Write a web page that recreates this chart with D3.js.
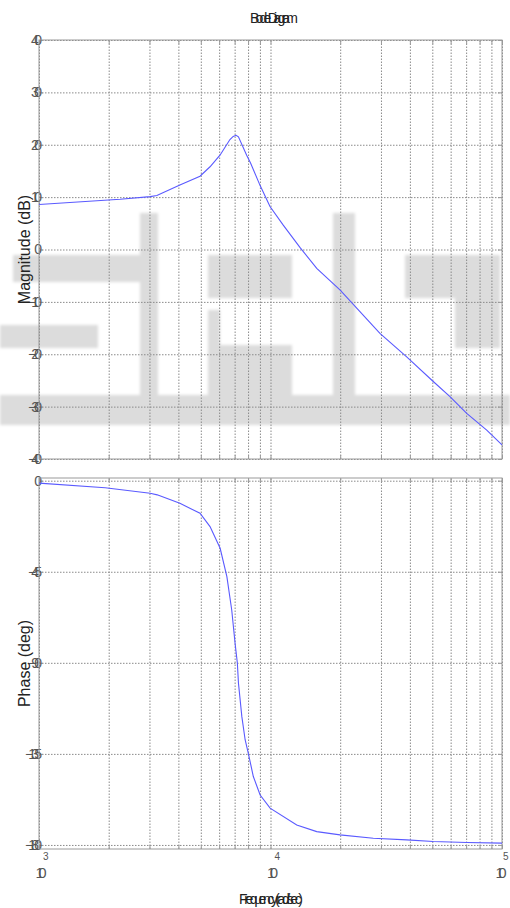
<!DOCTYPE html>
<html lang="en">
<head>
<meta charset="utf-8">
<title>Bode Diagram</title>
<script src="https://cdn.jsdelivr.net/npm/d3@7"></script>
<style>
  body { margin: 0; background: #fff; }
  svg { display: block; font-family: "Liberation Sans", Arial, sans-serif; }
  .grid line { stroke: #8a8a8a; stroke-dasharray: 1.5,1.5; stroke-width: 1; }
  .grid path { display: none; }
  .box { fill: none; stroke: #9a9a9a; stroke-width: 1; }
  .ticks path { display: none; }
  .ticks line { stroke: #9a9a9a; }
  .curve { fill: none; stroke: #5a5aff; stroke-width: 1.1; }
</style>
</head>
<body>
<script>

// frequency axis (rad/sec)
var freqTicks = [1e3, 1e4, 1e5];
var freqTickLabels = ["10", "10", "10"];
var freqTickExp = ["3", "4", "5"];

// magnitude (dB)
var magFreq = [1000, 2240, 3020, 3230, 4060, 4960, 5480, 6050, 6680, 6900, 7100, 7270, 7890, 8200, 9020, 9950, 11330, 13400, 15840, 19950, 29700, 38750, 50470, 59600, 70400, 85900, 100000];
var magDb   = [8.6, 9.6, 10.1, 10.3, 12.3, 14.0, 15.8, 18.0, 21.0, 21.6, 21.8, 21.5, 18.0, 16.5, 12.2, 8.2, 4.7, 0.4, -3.6, -7.7, -16.0, -20.5, -25.2, -28.1, -31.3, -34.5, -37.3];
var magTicks = [40, 30, 20, 10, 0, -10, -20, -30, -40];

// phase (deg)
var phFreq = [1000, 1930, 3020, 3240, 4060, 4960, 5480, 6060, 6480, 6800, 7030, 7190, 7270, 7520, 7770, 8020, 8430, 9020, 9960, 12980, 15840, 19960, 27800, 38750, 50470, 70470, 100000];
var phDeg  = [-1.2, -3.5, -6.2, -7.0, -11.2, -16.1, -22.7, -33.4, -47.4, -63.9, -80.3, -90.0, -100.0, -116.6, -128.0, -134.7, -146.2, -155.3, -161.8, -170.1, -173.4, -175.0, -176.7, -177.5, -178.3, -178.8, -179.1];
var phTicks = [0, -45, -90, -135, -180];

var W = 510, H = 908;
var left = 39, right = 502;
var magTop = 40, magBot = 459, phTop = 478, phBot = 849;

var svg = d3.select("body").append("svg")
  .attr("width", W)
  .attr("height", H);

// faint watermark behind the plots
var wm = [[13,255,137,27],[140,213,18,182],[0,325,98,23],[0,395,510,30],
          [208,255,84,43],[208,310,12,85],[208,345,84,50],[333,213,22,182],
          [405,255,95,43],[455,298,45,50]];
var defs = svg.append("defs");
defs.append("filter").attr("id", "soft")
  .append("feGaussianBlur").attr("stdDeviation", 1.8);
svg.append("g").attr("filter", "url(#soft)")
  .selectAll("rect").data(wm).enter().append("rect")
  .attr("x", function(d) { return d[0]; })
  .attr("y", function(d) { return d[1]; })
  .attr("width", function(d) { return d[2]; })
  .attr("height", function(d) { return d[3]; })
  .attr("fill", "#dcdcdc");

var x = d3.scaleLog().domain([1e3, 1e5]).range([left, right]);
var yMag = d3.scaleLinear().domain([-40, 40]).range([magBot, magTop]);
var yPh = d3.scaleLinear().domain([-182, 1.33]).range([phBot, phTop]);

function squish(n) { return 3 * n + 5; }

function panel(y, top, bot, ticks, xs, ys) {
  var g = svg.append("g");

  // grid
  g.append("g").attr("class", "grid")
    .attr("transform", "translate(0," + bot + ")")
    .call(d3.axisBottom(x).ticks(10).tickSize(-(bot - top)).tickFormat(""));
  g.append("g").attr("class", "grid")
    .attr("transform", "translate(" + left + ",0)")
    .call(d3.axisLeft(y).tickValues(ticks).tickSize(-(right - left)).tickFormat(""));

  // inward ticks on all four sides
  g.append("g").attr("class", "ticks")
    .attr("transform", "translate(0," + bot + ")")
    .call(d3.axisBottom(x).ticks(10).tickSize(-4).tickFormat(""));
  g.append("g").attr("class", "ticks")
    .attr("transform", "translate(0," + top + ")")
    .call(d3.axisTop(x).ticks(10).tickSize(-4).tickFormat(""));
  g.append("g").attr("class", "ticks")
    .attr("transform", "translate(" + right + ",0)")
    .call(d3.axisRight(y).tickValues(ticks).tickSize(-4).tickFormat(""));

  var ya = g.append("g").attr("class", "ticks")
    .attr("transform", "translate(" + left + ",0)")
    .call(d3.axisLeft(y).tickValues(ticks).tickSize(-4).tickPadding(-3));
  ya.selectAll("text")
    .attr("fill", "#555")
    .style("font-size", "14px")
    .attr("textLength", function(d) { return squish(String(d).length); })
    .attr("lengthAdjust", "spacing");

  g.append("rect").attr("class", "box")
    .attr("x", left).attr("y", top)
    .attr("width", right - left).attr("height", bot - top);

  var line = d3.line()
    .x(function(d) { return x(d[0]); })
    .y(function(d) { return y(d[1]); });
  g.append("path").attr("class", "curve")
    .datum(d3.zip(xs, ys))
    .attr("d", line);
}

panel(yMag, magTop, magBot, magTicks, magFreq, magDb);
panel(yPh, phTop, phBot, phTicks, phFreq, phDeg);

// decade labels under the phase plot (last one nudged to stay inside)
var xl = svg.append("g").selectAll("g").data(freqTicks).enter().append("g")
  .attr("transform", function(d, i) {
    return "translate(" + (x(d) + (i === freqTicks.length - 1 ? -1 : 2)) + ",0)";
  });
xl.append("text")
  .attr("y", 878).attr("text-anchor", "middle")
  .attr("fill", "#555").style("font-size", "15px")
  .attr("textLength", 11).attr("lengthAdjust", "spacing")
  .text(function(d, i) { return freqTickLabels[i]; });
xl.append("text")
  .attr("x", 2).attr("y", 860)
  .attr("fill", "#555").style("font-size", "10px")
  .text(function(d, i) { return freqTickExp[i]; });

// titles
svg.append("text")
  .attr("x", 274).attr("y", 23).attr("text-anchor", "middle")
  .attr("fill", "#222").style("font-size", "14px")
  .attr("textLength", 48).attr("lengthAdjust", "spacing")
  .text("Bode Diagram");

svg.append("text")
  .attr("x", 271).attr("y", 904).attr("text-anchor", "middle")
  .attr("fill", "#222").style("font-size", "14px")
  .attr("textLength", 64).attr("lengthAdjust", "spacing")
  .text("Frequency (rad/sec)");

svg.append("text")
  .attr("transform", "translate(30," + ((magTop + magBot) / 2) + ") rotate(-90)")
  .attr("text-anchor", "middle")
  .attr("fill", "#222").style("font-size", "16px")
  .text("Magnitude (dB)");

svg.append("text")
  .attr("transform", "translate(30," + ((phTop + phBot) / 2) + ") rotate(-90)")
  .attr("text-anchor", "middle")
  .attr("fill", "#222").style("font-size", "16px")
  .text("Phase (deg)");

</script>
</body>
</html>
